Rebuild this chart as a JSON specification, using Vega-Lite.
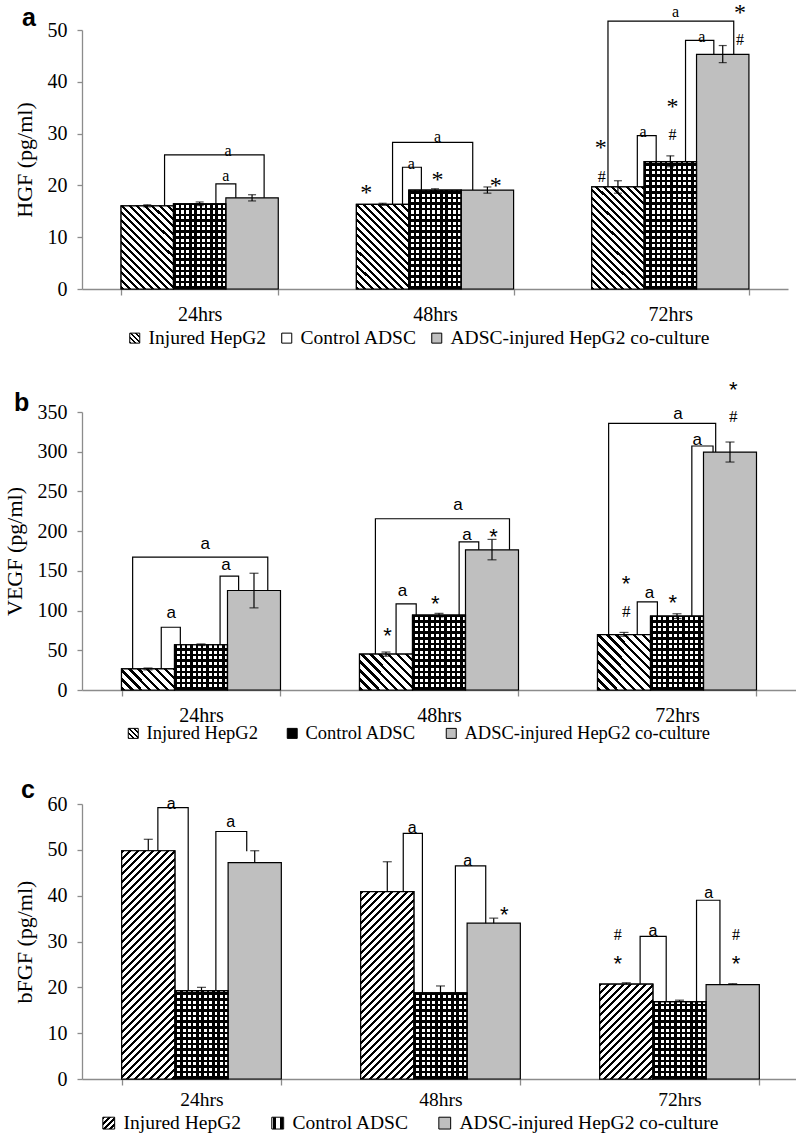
{
"$schema":"https://vega.github.io/schema/vega-lite/v6.json",
"background":"white",
"padding":{"left":3,"top":1,"right":0,"bottom":0},
"params":[
{"name":"hatchStops","value":[{"offset":0,"color":"#000"},{"offset":0.01,"color":"#000"},{"offset":0.01,"color":"#fff"},{"offset":0.025,"color":"#fff"},
{"offset":0.025,"color":"#000"},{"offset":0.035,"color":"#000"},{"offset":0.035,"color":"#fff"},{"offset":0.05,"color":"#fff"},
{"offset":0.05,"color":"#000"},{"offset":0.06,"color":"#000"},{"offset":0.06,"color":"#fff"},{"offset":0.075,"color":"#fff"},
{"offset":0.075,"color":"#000"},{"offset":0.085,"color":"#000"},{"offset":0.085,"color":"#fff"},{"offset":0.1,"color":"#fff"},
{"offset":0.1,"color":"#000"},{"offset":0.11,"color":"#000"},{"offset":0.11,"color":"#fff"},{"offset":0.125,"color":"#fff"},
{"offset":0.125,"color":"#000"},{"offset":0.135,"color":"#000"},{"offset":0.135,"color":"#fff"},{"offset":0.15,"color":"#fff"},
{"offset":0.15,"color":"#000"},{"offset":0.16,"color":"#000"},{"offset":0.16,"color":"#fff"},{"offset":0.175,"color":"#fff"},
{"offset":0.175,"color":"#000"},{"offset":0.185,"color":"#000"},{"offset":0.185,"color":"#fff"},{"offset":0.2,"color":"#fff"},
{"offset":0.2,"color":"#000"},{"offset":0.21,"color":"#000"},{"offset":0.21,"color":"#fff"},{"offset":0.225,"color":"#fff"},
{"offset":0.225,"color":"#000"},{"offset":0.235,"color":"#000"},{"offset":0.235,"color":"#fff"},{"offset":0.25,"color":"#fff"},
{"offset":0.25,"color":"#000"},{"offset":0.26,"color":"#000"},{"offset":0.26,"color":"#fff"},{"offset":0.275,"color":"#fff"},
{"offset":0.275,"color":"#000"},{"offset":0.285,"color":"#000"},{"offset":0.285,"color":"#fff"},{"offset":0.3,"color":"#fff"},
{"offset":0.3,"color":"#000"},{"offset":0.31,"color":"#000"},{"offset":0.31,"color":"#fff"},{"offset":0.325,"color":"#fff"},
{"offset":0.325,"color":"#000"},{"offset":0.335,"color":"#000"},{"offset":0.335,"color":"#fff"},{"offset":0.35,"color":"#fff"},
{"offset":0.35,"color":"#000"},{"offset":0.36,"color":"#000"},{"offset":0.36,"color":"#fff"},{"offset":0.375,"color":"#fff"},
{"offset":0.375,"color":"#000"},{"offset":0.385,"color":"#000"},{"offset":0.385,"color":"#fff"},{"offset":0.4,"color":"#fff"},
{"offset":0.4,"color":"#000"},{"offset":0.41,"color":"#000"},{"offset":0.41,"color":"#fff"},{"offset":0.425,"color":"#fff"},
{"offset":0.425,"color":"#000"},{"offset":0.435,"color":"#000"},{"offset":0.435,"color":"#fff"},{"offset":0.45,"color":"#fff"},
{"offset":0.45,"color":"#000"},{"offset":0.46,"color":"#000"},{"offset":0.46,"color":"#fff"},{"offset":0.475,"color":"#fff"},
{"offset":0.475,"color":"#000"},{"offset":0.485,"color":"#000"},{"offset":0.485,"color":"#fff"},{"offset":0.5,"color":"#fff"},
{"offset":0.5,"color":"#000"},{"offset":0.51,"color":"#000"},{"offset":0.51,"color":"#fff"},{"offset":0.525,"color":"#fff"},
{"offset":0.525,"color":"#000"},{"offset":0.535,"color":"#000"},{"offset":0.535,"color":"#fff"},{"offset":0.55,"color":"#fff"},
{"offset":0.55,"color":"#000"},{"offset":0.56,"color":"#000"},{"offset":0.56,"color":"#fff"},{"offset":0.575,"color":"#fff"},
{"offset":0.575,"color":"#000"},{"offset":0.585,"color":"#000"},{"offset":0.585,"color":"#fff"},{"offset":0.6,"color":"#fff"},
{"offset":0.6,"color":"#000"},{"offset":0.61,"color":"#000"},{"offset":0.61,"color":"#fff"},{"offset":0.625,"color":"#fff"},
{"offset":0.625,"color":"#000"},{"offset":0.635,"color":"#000"},{"offset":0.635,"color":"#fff"},{"offset":0.65,"color":"#fff"},
{"offset":0.65,"color":"#000"},{"offset":0.66,"color":"#000"},{"offset":0.66,"color":"#fff"},{"offset":0.675,"color":"#fff"},
{"offset":0.675,"color":"#000"},{"offset":0.685,"color":"#000"},{"offset":0.685,"color":"#fff"},{"offset":0.7,"color":"#fff"},
{"offset":0.7,"color":"#000"},{"offset":0.71,"color":"#000"},{"offset":0.71,"color":"#fff"},{"offset":0.725,"color":"#fff"},
{"offset":0.725,"color":"#000"},{"offset":0.735,"color":"#000"},{"offset":0.735,"color":"#fff"},{"offset":0.75,"color":"#fff"},
{"offset":0.75,"color":"#000"},{"offset":0.76,"color":"#000"},{"offset":0.76,"color":"#fff"},{"offset":0.775,"color":"#fff"},
{"offset":0.775,"color":"#000"},{"offset":0.785,"color":"#000"},{"offset":0.785,"color":"#fff"},{"offset":0.8,"color":"#fff"},
{"offset":0.8,"color":"#000"},{"offset":0.81,"color":"#000"},{"offset":0.81,"color":"#fff"},{"offset":0.825,"color":"#fff"},
{"offset":0.825,"color":"#000"},{"offset":0.835,"color":"#000"},{"offset":0.835,"color":"#fff"},{"offset":0.85,"color":"#fff"},
{"offset":0.85,"color":"#000"},{"offset":0.86,"color":"#000"},{"offset":0.86,"color":"#fff"},{"offset":0.875,"color":"#fff"},
{"offset":0.875,"color":"#000"},{"offset":0.885,"color":"#000"},{"offset":0.885,"color":"#fff"},{"offset":0.9,"color":"#fff"},
{"offset":0.9,"color":"#000"},{"offset":0.91,"color":"#000"},{"offset":0.91,"color":"#fff"},{"offset":0.925,"color":"#fff"},
{"offset":0.925,"color":"#000"},{"offset":0.935,"color":"#000"},{"offset":0.935,"color":"#fff"},{"offset":0.95,"color":"#fff"},
{"offset":0.95,"color":"#000"},{"offset":0.96,"color":"#000"},{"offset":0.96,"color":"#fff"},{"offset":0.975,"color":"#fff"},
{"offset":0.975,"color":"#000"},{"offset":0.985,"color":"#000"},{"offset":0.985,"color":"#fff"},{"offset":1,"color":"#fff"}]},
{"name":"rowStops","value":[{"offset":0,"color":"#000"},{"offset":0.018,"color":"#000"},{"offset":0.018,"color":"rgba(0,0,0,0)"},{"offset":0.04,"color":"rgba(0,0,0,0)"},
{"offset":0.04,"color":"#000"},{"offset":0.058,"color":"#000"},{"offset":0.058,"color":"rgba(0,0,0,0)"},{"offset":0.08,"color":"rgba(0,0,0,0)"},
{"offset":0.08,"color":"#000"},{"offset":0.098,"color":"#000"},{"offset":0.098,"color":"rgba(0,0,0,0)"},{"offset":0.12,"color":"rgba(0,0,0,0)"},
{"offset":0.12,"color":"#000"},{"offset":0.138,"color":"#000"},{"offset":0.138,"color":"rgba(0,0,0,0)"},{"offset":0.16,"color":"rgba(0,0,0,0)"},
{"offset":0.16,"color":"#000"},{"offset":0.178,"color":"#000"},{"offset":0.178,"color":"rgba(0,0,0,0)"},{"offset":0.2,"color":"rgba(0,0,0,0)"},
{"offset":0.2,"color":"#000"},{"offset":0.218,"color":"#000"},{"offset":0.218,"color":"rgba(0,0,0,0)"},{"offset":0.24,"color":"rgba(0,0,0,0)"},
{"offset":0.24,"color":"#000"},{"offset":0.258,"color":"#000"},{"offset":0.258,"color":"rgba(0,0,0,0)"},{"offset":0.28,"color":"rgba(0,0,0,0)"},
{"offset":0.28,"color":"#000"},{"offset":0.298,"color":"#000"},{"offset":0.298,"color":"rgba(0,0,0,0)"},{"offset":0.32,"color":"rgba(0,0,0,0)"},
{"offset":0.32,"color":"#000"},{"offset":0.338,"color":"#000"},{"offset":0.338,"color":"rgba(0,0,0,0)"},{"offset":0.36,"color":"rgba(0,0,0,0)"},
{"offset":0.36,"color":"#000"},{"offset":0.378,"color":"#000"},{"offset":0.378,"color":"rgba(0,0,0,0)"},{"offset":0.4,"color":"rgba(0,0,0,0)"},
{"offset":0.4,"color":"#000"},{"offset":0.418,"color":"#000"},{"offset":0.418,"color":"rgba(0,0,0,0)"},{"offset":0.44,"color":"rgba(0,0,0,0)"},
{"offset":0.44,"color":"#000"},{"offset":0.458,"color":"#000"},{"offset":0.458,"color":"rgba(0,0,0,0)"},{"offset":0.48,"color":"rgba(0,0,0,0)"},
{"offset":0.48,"color":"#000"},{"offset":0.498,"color":"#000"},{"offset":0.498,"color":"rgba(0,0,0,0)"},{"offset":0.52,"color":"rgba(0,0,0,0)"},
{"offset":0.52,"color":"#000"},{"offset":0.538,"color":"#000"},{"offset":0.538,"color":"rgba(0,0,0,0)"},{"offset":0.56,"color":"rgba(0,0,0,0)"},
{"offset":0.56,"color":"#000"},{"offset":0.578,"color":"#000"},{"offset":0.578,"color":"rgba(0,0,0,0)"},{"offset":0.6,"color":"rgba(0,0,0,0)"},
{"offset":0.6,"color":"#000"},{"offset":0.618,"color":"#000"},{"offset":0.618,"color":"rgba(0,0,0,0)"},{"offset":0.64,"color":"rgba(0,0,0,0)"},
{"offset":0.64,"color":"#000"},{"offset":0.658,"color":"#000"},{"offset":0.658,"color":"rgba(0,0,0,0)"},{"offset":0.68,"color":"rgba(0,0,0,0)"},
{"offset":0.68,"color":"#000"},{"offset":0.698,"color":"#000"},{"offset":0.698,"color":"rgba(0,0,0,0)"},{"offset":0.72,"color":"rgba(0,0,0,0)"},
{"offset":0.72,"color":"#000"},{"offset":0.738,"color":"#000"},{"offset":0.738,"color":"rgba(0,0,0,0)"},{"offset":0.76,"color":"rgba(0,0,0,0)"},
{"offset":0.76,"color":"#000"},{"offset":0.778,"color":"#000"},{"offset":0.778,"color":"rgba(0,0,0,0)"},{"offset":0.8,"color":"rgba(0,0,0,0)"},
{"offset":0.8,"color":"#000"},{"offset":0.818,"color":"#000"},{"offset":0.818,"color":"rgba(0,0,0,0)"},{"offset":0.84,"color":"rgba(0,0,0,0)"},
{"offset":0.84,"color":"#000"},{"offset":0.858,"color":"#000"},{"offset":0.858,"color":"rgba(0,0,0,0)"},{"offset":0.88,"color":"rgba(0,0,0,0)"},
{"offset":0.88,"color":"#000"},{"offset":0.898,"color":"#000"},{"offset":0.898,"color":"rgba(0,0,0,0)"},{"offset":0.92,"color":"rgba(0,0,0,0)"},
{"offset":0.92,"color":"#000"},{"offset":0.938,"color":"#000"},{"offset":0.938,"color":"rgba(0,0,0,0)"},{"offset":0.96,"color":"rgba(0,0,0,0)"},
{"offset":0.96,"color":"#000"},{"offset":0.978,"color":"#000"},{"offset":0.978,"color":"rgba(0,0,0,0)"},{"offset":1,"color":"rgba(0,0,0,0)"}]},
{"name":"ctlGrad","value":{"gradient":"linear","x1":0,"y1":0,"x2":1,"y2":0,"stops":[
{"offset":0,"color":"#000"},{"offset":0.045,"color":"#000"},{"offset":0.045,"color":"#fff"},{"offset":0.1,"color":"#fff"},
{"offset":0.1,"color":"#000"},{"offset":0.145,"color":"#000"},{"offset":0.145,"color":"#fff"},{"offset":0.2,"color":"#fff"},
{"offset":0.2,"color":"#000"},{"offset":0.245,"color":"#000"},{"offset":0.245,"color":"#fff"},{"offset":0.3,"color":"#fff"},
{"offset":0.3,"color":"#000"},{"offset":0.345,"color":"#000"},{"offset":0.345,"color":"#fff"},{"offset":0.4,"color":"#fff"},
{"offset":0.4,"color":"#000"},{"offset":0.445,"color":"#000"},{"offset":0.445,"color":"#fff"},{"offset":0.5,"color":"#fff"},
{"offset":0.5,"color":"#000"},{"offset":0.545,"color":"#000"},{"offset":0.545,"color":"#fff"},{"offset":0.6,"color":"#fff"},
{"offset":0.6,"color":"#000"},{"offset":0.645,"color":"#000"},{"offset":0.645,"color":"#fff"},{"offset":0.7,"color":"#fff"},
{"offset":0.7,"color":"#000"},{"offset":0.745,"color":"#000"},{"offset":0.745,"color":"#fff"},{"offset":0.8,"color":"#fff"},
{"offset":0.8,"color":"#000"},{"offset":0.845,"color":"#000"},{"offset":0.845,"color":"#fff"},{"offset":0.9,"color":"#fff"},
{"offset":0.9,"color":"#000"},{"offset":0.945,"color":"#000"},{"offset":0.945,"color":"#fff"},{"offset":1,"color":"#fff"}]}},
{"name":"legInjA","value":{"gradient":"linear","x1":0,"y1":1,"x2":1,"y2":0,"stops":[
{"offset":0,"color":"#000"},{"offset":0.1,"color":"#000"},{"offset":0.1,"color":"#fff"},{"offset":0.25,"color":"#fff"},
{"offset":0.25,"color":"#000"},{"offset":0.35,"color":"#000"},{"offset":0.35,"color":"#fff"},{"offset":0.5,"color":"#fff"},
{"offset":0.5,"color":"#000"},{"offset":0.6,"color":"#000"},{"offset":0.6,"color":"#fff"},{"offset":0.75,"color":"#fff"},
{"offset":0.75,"color":"#000"},{"offset":0.85,"color":"#000"},{"offset":0.85,"color":"#fff"},{"offset":1,"color":"#fff"}]}},
{"name":"legInjC","value":{"gradient":"linear","x1":0,"y1":0,"x2":1,"y2":1,"stops":[
{"offset":0,"color":"#000"},{"offset":0.1,"color":"#000"},{"offset":0.1,"color":"#fff"},{"offset":0.25,"color":"#fff"},
{"offset":0.25,"color":"#000"},{"offset":0.35,"color":"#000"},{"offset":0.35,"color":"#fff"},{"offset":0.5,"color":"#fff"},
{"offset":0.5,"color":"#000"},{"offset":0.6,"color":"#000"},{"offset":0.6,"color":"#fff"},{"offset":0.75,"color":"#fff"},
{"offset":0.75,"color":"#000"},{"offset":0.85,"color":"#000"},{"offset":0.85,"color":"#fff"},{"offset":1,"color":"#fff"}]}}
],
"config":{
"view":{"stroke":null},
"font":"Liberation Serif",
"axis":{"domainColor":"#8c8c8c","tickColor":"#8c8c8c","domainWidth":1.3,"tickWidth":1.3,"labelColor":"#000","titleColor":"#000","labelFont":"Liberation Serif","titleFont":"Liberation Serif","titleFontWeight":"normal","grid":false},
"axisX":{"labelFontSize":20,"tickSize":6,"labelPadding":9,"labelAngle":0},
"axisY":{"labelFontSize":20,"tickSize":5,"labelPadding":10,"titleFontSize":22,"titlePadding":11,"labelOverlap":false},
"title":{"font":"Liberation Sans","fontWeight":"bold","fontSize":25,"anchor":"start","frame":"bounds","color":"#000","baseline":"alphabetic","offset":0}
},
"bounds":"flush",
"spacing":123,
"resolve":{"scale":{"fill":"independent","x":"independent","y":"independent"},"legend":{"fill":"independent"}},
"vconcat":[
{
"width":706,"height":259,
"title":{"text":"a","dx":9,"dy":34},
"data":{"values":[
{"time":"24hrs","series":"Injured HepG2","value":16.05,"lo":15.85,"hi":16.25},
{"time":"24hrs","series":"Control ADSC","value":16.45,"lo":16.1,"hi":16.8},
{"time":"24hrs","series":"ADSC-injured HepG2 co-culture","value":17.6,"lo":17.0,"hi":18.2},
{"time":"48hrs","series":"Injured HepG2","value":16.35,"lo":16.15,"hi":16.55},
{"time":"48hrs","series":"Control ADSC","value":19.1,"lo":18.85,"hi":19.35},
{"time":"48hrs","series":"ADSC-injured HepG2 co-culture","value":19.1,"lo":18.5,"hi":19.7},
{"time":"72hrs","series":"Injured HepG2","value":19.7,"lo":18.5,"hi":20.9},
{"time":"72hrs","series":"Control ADSC","value":24.6,"lo":23.6,"hi":25.7},
{"time":"72hrs","series":"ADSC-injured HepG2 co-culture","value":45.3,"lo":43.7,"hi":47.0}
]},
"resolve":{"scale":{"xOffset":"independent"}},
"layer":[
{"mark":{"type":"bar","stroke":"#000","strokeWidth":1.2},
"encoding":{
"x":{"field":"time","type":"nominal","title":null,"scale":{"paddingInner":0.332,"paddingOuter":0.166},"axis":{"labelAngle":0,"tickBand":"extent"}},
"xOffset":{"field":"series","type":"nominal","scale":{"domain":["Injured HepG2","Control ADSC","ADSC-injured HepG2 co-culture"],"paddingInner":0,"paddingOuter":0}},
"y":{"field":"value","type":"quantitative","title":"HGF (pg/ml)","scale":{"domain":[0,50],"nice":false},"axis":{"values":[0,10,20,30,40,50],"labelOverlap":false}},
"fill":{"field":"series","type":"nominal","scale":{"domain":["Injured HepG2","Control ADSC","ADSC-injured HepG2 co-culture"],"range":[{"expr":"legInjA"},{"expr":"ctlGrad"},"#bfbfbf"]},
"legend":{"title":null,"orient":"none","legendX":43,"legendY":298,"direction":"horizontal","symbolType":"square","symbolSize":100,"symbolStrokeColor":"#000","symbolStrokeWidth":1,"labelFont":"Liberation Serif","labelFontSize":19.5,"labelColor":"#000","columnPadding":10,"labelOffset":4,"labelLimit":500,"padding":0,
"encode":{"symbols":{"update":{"fill":{"signal":"datum.value === 'Injured HepG2' ? legInjA : datum.value === 'Control ADSC' ? '#333333' : '#bfbfbf'"},"stroke":{"value":"#000"}}}}}}
}},
{"transform":[{"filter":"datum.series === 'Injured HepG2'"}],
"mark":{"type":"bar","stroke":"#000","strokeWidth":1.2,"fill":{"expr":"{gradient:'linear',x1:0,y1:1,x2:300*52/(2704+pow(datum.value*5.17,2)),y2:1-300*datum.value*5.17/(2704+pow(datum.value*5.17,2)),stops:hatchStops}"}},
"encoding":{
"x":{"field":"time","type":"nominal","title":null},
"xOffset":{"field":"series","type":"nominal","scale":{"domain":["Injured HepG2","Control ADSC","ADSC-injured HepG2 co-culture"],"paddingInner":0,"paddingOuter":0}},
"y":{"field":"value","type":"quantitative","title":"HGF (pg/ml)","scale":{"domain":[0,50],"nice":false}}}},
{"transform":[{"filter":"datum.series === 'Control ADSC'"}],
"mark":{"type":"bar","stroke":"#000","strokeWidth":1.2,"fill":{"expr":"{gradient:'linear',x1:0.5,y1:1,x2:0.5,y2:1-140/(datum.value*5.17),stops:rowStops}"}},
"encoding":{
"x":{"field":"time","type":"nominal","title":null},
"xOffset":{"field":"series","type":"nominal","scale":{"domain":["Injured HepG2","Control ADSC","ADSC-injured HepG2 co-culture"],"paddingInner":0,"paddingOuter":0}},
"y":{"field":"value","type":"quantitative","title":"HGF (pg/ml)","scale":{"domain":[0,50],"nice":false}}}},
{"mark":{"type":"rule","stroke":"#000","strokeWidth":1.2},
"encoding":{
"x":{"field":"time","type":"nominal","title":null},
"xOffset":{"field":"series","type":"nominal","scale":{"domain":["Injured HepG2","Control ADSC","ADSC-injured HepG2 co-culture"],"paddingInner":0,"paddingOuter":0}},
"y":{"field":"lo","type":"quantitative","title":"HGF (pg/ml)","scale":{"domain":[0,50],"nice":false}},
"y2":{"field":"hi"}}},
{"mark":{"type":"tick","orient":"horizontal","size":8,"thickness":1.2,"color":"#000"},
"encoding":{
"x":{"field":"time","type":"nominal","title":null},
"xOffset":{"field":"series","type":"nominal","scale":{"domain":["Injured HepG2","Control ADSC","ADSC-injured HepG2 co-culture"],"paddingInner":0,"paddingOuter":0}},
"y":{"field":"hi","type":"quantitative","title":"HGF (pg/ml)","scale":{"domain":[0,50],"nice":false}}}},
{"mark":{"type":"tick","orient":"horizontal","size":8,"thickness":1.2,"color":"#000"},
"encoding":{
"x":{"field":"time","type":"nominal","title":null},
"xOffset":{"field":"series","type":"nominal","scale":{"domain":["Injured HepG2","Control ADSC","ADSC-injured HepG2 co-culture"],"paddingInner":0,"paddingOuter":0}},
"y":{"field":"lo","type":"quantitative","title":"HGF (pg/ml)","scale":{"domain":[0,50],"nice":false}}}},
{"data":{"values":[
{"time":"24hrs","id":"L","k":1,"pos":0.83,"y":16.05},{"time":"24hrs","id":"L","k":2,"pos":0.83,"y":25.9},{"time":"24hrs","id":"L","k":3,"pos":2.73,"y":25.9},{"time":"24hrs","id":"L","k":4,"pos":2.73,"y":17.6},
{"time":"24hrs","id":"S","k":1,"pos":1.81,"y":16.45},{"time":"24hrs","id":"S","k":2,"pos":1.81,"y":20.3},{"time":"24hrs","id":"S","k":3,"pos":2.19,"y":20.3},{"time":"24hrs","id":"S","k":4,"pos":2.19,"y":17.6},
{"time":"48hrs","id":"L","k":1,"pos":0.69,"y":16.35},{"time":"48hrs","id":"L","k":2,"pos":0.69,"y":28.3},{"time":"48hrs","id":"L","k":3,"pos":2.22,"y":28.3},{"time":"48hrs","id":"L","k":4,"pos":2.22,"y":19.1},
{"time":"48hrs","id":"S","k":1,"pos":0.88,"y":16.35},{"time":"48hrs","id":"S","k":2,"pos":0.88,"y":23.5},{"time":"48hrs","id":"S","k":3,"pos":1.24,"y":23.5},{"time":"48hrs","id":"S","k":4,"pos":1.24,"y":19.1},
{"time":"72hrs","id":"L","k":1,"pos":0.31,"y":19.7},{"time":"72hrs","id":"L","k":2,"pos":0.31,"y":51.7},{"time":"72hrs","id":"L","k":3,"pos":2.71,"y":51.7},{"time":"72hrs","id":"L","k":4,"pos":2.71,"y":45.3},
{"time":"72hrs","id":"S1","k":1,"pos":0.87,"y":19.7},{"time":"72hrs","id":"S1","k":2,"pos":0.87,"y":29.6},{"time":"72hrs","id":"S1","k":3,"pos":1.23,"y":29.6},{"time":"72hrs","id":"S1","k":4,"pos":1.23,"y":24.6},
{"time":"72hrs","id":"S2","k":1,"pos":1.79,"y":24.6},{"time":"72hrs","id":"S2","k":2,"pos":1.79,"y":48.0},{"time":"72hrs","id":"S2","k":3,"pos":2.33,"y":48.0},{"time":"72hrs","id":"S2","k":4,"pos":2.33,"y":45.3}
]},
"mark":{"type":"line","stroke":"#000","strokeWidth":1.2},
"encoding":{
"x":{"field":"time","type":"nominal","title":null},
"xOffset":{"field":"pos","type":"quantitative","scale":{"domain":[0,3],"nice":false,"zero":false}},
"y":{"field":"y","type":"quantitative","title":"HGF (pg/ml)","scale":{"domain":[0,50],"nice":false}},
"detail":[{"field":"time"},{"field":"id"}],
"order":{"field":"k"}}},
{"data":{"values":[
{"time":"24hrs","pos":2.04,"y":26.7,"label":"a"},{"time":"24hrs","pos":2.0,"y":21.9,"label":"a"},
{"time":"48hrs","pos":1.55,"y":29.3,"label":"a"},{"time":"48hrs","pos":1.05,"y":24.2,"label":"a"},
{"time":"72hrs","pos":1.6,"y":53.4,"label":"a"},{"time":"72hrs","pos":0.98,"y":30.4,"label":"a"},{"time":"72hrs","pos":2.1,"y":48.7,"label":"a"},
{"time":"48hrs","pos":0.19,"y":19.3,"label":"*"},{"time":"48hrs","pos":1.55,"y":21.8,"label":"*"},{"time":"48hrs","pos":2.66,"y":20.6,"label":"*"},
{"time":"72hrs","pos":0.17,"y":27.9,"label":"*"},{"time":"72hrs","pos":1.54,"y":36.0,"label":"*"},{"time":"72hrs","pos":2.83,"y":54.0,"label":"*"},
{"time":"72hrs","pos":0.19,"y":21.7,"label":"#"},{"time":"72hrs","pos":1.54,"y":29.8,"label":"#"},{"time":"72hrs","pos":2.83,"y":48.1,"label":"#"}
]},
"mark":{"type":"text","font":"Liberation Serif","baseline":"middle","align":"center","color":"#000","dy":{"expr":"datum.label === '*' ? 4 : 0"}},
"encoding":{
"x":{"field":"time","type":"nominal","title":null},
"xOffset":{"field":"pos","type":"quantitative","scale":{"domain":[0,3],"nice":false,"zero":false}},
"y":{"field":"y","type":"quantitative","title":"HGF (pg/ml)","scale":{"domain":[0,50],"nice":false}},
"text":{"field":"label"},
"size":{"condition":{"test":"datum.label === '*'","value":24},"value":16}}}
]
},
{
"bounds":"flush",
"spacing":114,
"resolve":{"scale":{"fill":"independent","x":"independent","y":"independent"},"legend":{"fill":"independent"}},
"vconcat":[
{
"width":714,"height":278,
"title":{"text":"b","dx":11,"dy":41},
"data":{"values":[
{"time":"24hrs","series":"Injured HepG2","value":26.5,"lo":25.3,"hi":27.7},
{"time":"24hrs","series":"Control ADSC","value":57.0,"lo":56.0,"hi":58.0},
{"time":"24hrs","series":"ADSC-injured HepG2 co-culture","value":125.3,"lo":103.4,"hi":147.0},
{"time":"48hrs","series":"Injured HepG2","value":45.2,"lo":42.6,"hi":47.8},
{"time":"48hrs","series":"Control ADSC","value":94.2,"lo":92.0,"hi":96.5},
{"time":"48hrs","series":"ADSC-injured HepG2 co-culture","value":176.5,"lo":163.9,"hi":189.6},
{"time":"72hrs","series":"Injured HepG2","value":69.8,"lo":67.7,"hi":72.5},
{"time":"72hrs","series":"Control ADSC","value":92.9,"lo":90.0,"hi":96.0},
{"time":"72hrs","series":"ADSC-injured HepG2 co-culture","value":299.6,"lo":287.0,"hi":312.2}
]},
"resolve":{"scale":{"xOffset":"independent"}},
"layer":[
{"mark":{"type":"bar","stroke":"#000","strokeWidth":1.2},
"encoding":{
"x":{"field":"time","type":"nominal","title":null,"scale":{"paddingInner":0.332,"paddingOuter":0.166},"axis":{"labelAngle":0,"tickBand":"extent"}},
"xOffset":{"field":"series","type":"nominal","scale":{"domain":["Injured HepG2","Control ADSC","ADSC-injured HepG2 co-culture"],"paddingInner":0,"paddingOuter":0}},
"y":{"field":"value","type":"quantitative","title":"VEGF (pg/ml)","scale":{"domain":[0,350],"nice":false},"axis":{"values":[0,50,100,150,200,250,300,350],"labelOverlap":false,"tickCount":8}},
"fill":{"field":"series","type":"nominal","scale":{"domain":["Injured HepG2","Control ADSC","ADSC-injured HepG2 co-culture"],"range":[{"expr":"legInjA"},{"expr":"ctlGrad"},"#bfbfbf"]},
"legend":{"title":null,"orient":"none","legendX":42,"legendY":312,"direction":"horizontal","symbolType":"square","symbolSize":100,"symbolStrokeColor":"#000","symbolStrokeWidth":1,"labelFont":"Liberation Serif","labelFontSize":18.5,"labelColor":"#000","columnPadding":25,"labelOffset":4,"labelLimit":500,"padding":0,
"encode":{"symbols":{"update":{"fill":{"signal":"datum.value === 'Injured HepG2' ? legInjA : datum.value === 'Control ADSC' ? '#333333' : '#bfbfbf'"},"stroke":{"value":"#000"}}}}}}
}},
{"transform":[{"filter":"datum.series === 'Injured HepG2'"}],
"mark":{"type":"bar","stroke":"#000","strokeWidth":1.2,"fill":{"expr":"{gradient:'linear',x1:0,y1:1,x2:360*53.3/(2841+pow(datum.value*0.7934,2)),y2:1-360*datum.value*0.7934/(2841+pow(datum.value*0.7934,2)),stops:hatchStops}"}},
"encoding":{
"x":{"field":"time","type":"nominal","title":null},
"xOffset":{"field":"series","type":"nominal","scale":{"domain":["Injured HepG2","Control ADSC","ADSC-injured HepG2 co-culture"],"paddingInner":0,"paddingOuter":0}},
"y":{"field":"value","type":"quantitative","title":"VEGF (pg/ml)","scale":{"domain":[0,350],"nice":false}}}},
{"transform":[{"filter":"datum.series === 'Control ADSC'"}],
"mark":{"type":"bar","stroke":"#000","strokeWidth":1.2,"fill":{"expr":"{gradient:'linear',x1:0.5,y1:1,x2:0.5,y2:1-140/(datum.value*0.7934),stops:rowStops}"}},
"encoding":{
"x":{"field":"time","type":"nominal","title":null},
"xOffset":{"field":"series","type":"nominal","scale":{"domain":["Injured HepG2","Control ADSC","ADSC-injured HepG2 co-culture"],"paddingInner":0,"paddingOuter":0}},
"y":{"field":"value","type":"quantitative","title":"VEGF (pg/ml)","scale":{"domain":[0,350],"nice":false}}}},
{"mark":{"type":"rule","stroke":"#000","strokeWidth":1.2},
"encoding":{
"x":{"field":"time","type":"nominal","title":null},
"xOffset":{"field":"series","type":"nominal","scale":{"domain":["Injured HepG2","Control ADSC","ADSC-injured HepG2 co-culture"],"paddingInner":0,"paddingOuter":0}},
"y":{"field":"lo","type":"quantitative","title":"VEGF (pg/ml)","scale":{"domain":[0,350],"nice":false}},
"y2":{"field":"hi"}}},
{"mark":{"type":"tick","orient":"horizontal","size":9,"thickness":1.2,"color":"#000"},
"encoding":{
"x":{"field":"time","type":"nominal","title":null},
"xOffset":{"field":"series","type":"nominal","scale":{"domain":["Injured HepG2","Control ADSC","ADSC-injured HepG2 co-culture"],"paddingInner":0,"paddingOuter":0}},
"y":{"field":"hi","type":"quantitative","title":"VEGF (pg/ml)","scale":{"domain":[0,350],"nice":false}}}},
{"mark":{"type":"tick","orient":"horizontal","size":9,"thickness":1.2,"color":"#000"},
"encoding":{
"x":{"field":"time","type":"nominal","title":null},
"xOffset":{"field":"series","type":"nominal","scale":{"domain":["Injured HepG2","Control ADSC","ADSC-injured HepG2 co-culture"],"paddingInner":0,"paddingOuter":0}},
"y":{"field":"lo","type":"quantitative","title":"VEGF (pg/ml)","scale":{"domain":[0,350],"nice":false}}}},
{"data":{"values":[
{"time":"24hrs","id":"L","k":1,"pos":0.21,"y":26.5},{"time":"24hrs","id":"L","k":2,"pos":0.21,"y":167.3},{"time":"24hrs","id":"L","k":3,"pos":2.76,"y":167.3},{"time":"24hrs","id":"L","k":4,"pos":2.76,"y":125.3},
{"time":"24hrs","id":"S1","k":1,"pos":0.75,"y":26.5},{"time":"24hrs","id":"S1","k":2,"pos":0.75,"y":79},{"time":"24hrs","id":"S1","k":3,"pos":1.11,"y":79},{"time":"24hrs","id":"S1","k":4,"pos":1.11,"y":57},
{"time":"24hrs","id":"S2","k":1,"pos":1.86,"y":57},{"time":"24hrs","id":"S2","k":2,"pos":1.86,"y":143.3},{"time":"24hrs","id":"S2","k":3,"pos":2.21,"y":143.3},{"time":"24hrs","id":"S2","k":4,"pos":2.21,"y":125.3},
{"time":"48hrs","id":"L","k":1,"pos":0.3,"y":45.2},{"time":"48hrs","id":"L","k":2,"pos":0.3,"y":215.6},{"time":"48hrs","id":"L","k":3,"pos":2.83,"y":215.6},{"time":"48hrs","id":"L","k":4,"pos":2.83,"y":176.5},
{"time":"48hrs","id":"S1","k":1,"pos":0.69,"y":45.2},{"time":"48hrs","id":"S1","k":2,"pos":0.69,"y":108.4},{"time":"48hrs","id":"S1","k":3,"pos":1.07,"y":108.4},{"time":"48hrs","id":"S1","k":4,"pos":1.07,"y":94.2},
{"time":"48hrs","id":"S2","k":1,"pos":1.88,"y":94.2},{"time":"48hrs","id":"S2","k":2,"pos":1.88,"y":186.6},{"time":"48hrs","id":"S2","k":3,"pos":2.25,"y":186.6},{"time":"48hrs","id":"S2","k":4,"pos":2.25,"y":176.5},
{"time":"72hrs","id":"L","k":1,"pos":0.21,"y":69.8},{"time":"72hrs","id":"L","k":2,"pos":0.21,"y":335.8},{"time":"72hrs","id":"L","k":3,"pos":2.23,"y":335.8},{"time":"72hrs","id":"L","k":4,"pos":2.23,"y":299.6},
{"time":"72hrs","id":"S1","k":1,"pos":0.75,"y":69.8},{"time":"72hrs","id":"S1","k":2,"pos":0.75,"y":110.9},{"time":"72hrs","id":"S1","k":3,"pos":1.13,"y":110.9},{"time":"72hrs","id":"S1","k":4,"pos":1.13,"y":92.9},
{"time":"72hrs","id":"S2","k":1,"pos":1.78,"y":92.9},{"time":"72hrs","id":"S2","k":2,"pos":1.78,"y":307.2},{"time":"72hrs","id":"S2","k":3,"pos":2.18,"y":307.2},{"time":"72hrs","id":"S2","k":4,"pos":2.18,"y":299.6}
]},
"mark":{"type":"line","stroke":"#000","strokeWidth":1.2},
"encoding":{
"x":{"field":"time","type":"nominal","title":null},
"xOffset":{"field":"pos","type":"quantitative","scale":{"domain":[0,3],"nice":false,"zero":false}},
"y":{"field":"y","type":"quantitative","title":"VEGF (pg/ml)","scale":{"domain":[0,350],"nice":false}},
"detail":[{"field":"time"},{"field":"id"}],
"order":{"field":"k"}}},
{"data":{"values":[
{"time":"24hrs","pos":1.58,"y":183.3,"label":"a"},{"time":"24hrs","pos":0.94,"y":97.1,"label":"a"},{"time":"24hrs","pos":1.97,"y":158,"label":"a"},
{"time":"48hrs","pos":1.86,"y":232.4,"label":"a"},{"time":"48hrs","pos":0.81,"y":124.4,"label":"a"},{"time":"48hrs","pos":2.03,"y":195,"label":"a"},
{"time":"72hrs","pos":1.52,"y":347.9,"label":"a"},{"time":"72hrs","pos":0.98,"y":122.3,"label":"a"},{"time":"72hrs","pos":1.88,"y":314.7,"label":"a"},
{"time":"48hrs","pos":0.53,"y":76.1,"label":"*"},{"time":"48hrs","pos":1.43,"y":116,"label":"*"},{"time":"48hrs","pos":2.53,"y":200,"label":"*"},
{"time":"72hrs","pos":0.54,"y":140.4,"label":"*"},{"time":"72hrs","pos":1.42,"y":116.8,"label":"*"},{"time":"72hrs","pos":2.56,"y":385.7,"label":"*"},
{"time":"72hrs","pos":0.54,"y":98.3,"label":"#"},{"time":"72hrs","pos":2.56,"y":343.7,"label":"#"}
]},
"mark":{"type":"text","font":{"expr":"datum.label === '#' ? 'Liberation Serif' : 'Liberation Sans'"},"baseline":"middle","align":"center","color":"#000","dy":{"expr":"datum.label === '*' ? 6 : 0"}},
"encoding":{
"x":{"field":"time","type":"nominal","title":null},
"xOffset":{"field":"pos","type":"quantitative","scale":{"domain":[0,3],"nice":false,"zero":false}},
"y":{"field":"y","type":"quantitative","title":"VEGF (pg/ml)","scale":{"domain":[0,350],"nice":false}},
"text":{"field":"label"},
"size":{"condition":{"test":"datum.label === '*'","value":22},"value":17}}}
]
},
{
"width":717,"height":275,
"title":{"text":"c","dx":8,"dy":13},
"data":{"values":[
{"time":"24hrs","series":"Injured HepG2","value":49.8,"hi":52.3},
{"time":"24hrs","series":"Control ADSC","value":19.3,"hi":20.0},
{"time":"24hrs","series":"ADSC-injured HepG2 co-culture","value":47.2,"hi":49.8},
{"time":"48hrs","series":"Injured HepG2","value":40.9,"hi":47.4},
{"time":"48hrs","series":"Control ADSC","value":18.8,"hi":20.3},
{"time":"48hrs","series":"ADSC-injured HepG2 co-culture","value":34.0,"hi":35.1},
{"time":"72hrs","series":"Injured HepG2","value":20.7,"hi":21.0},
{"time":"72hrs","series":"Control ADSC","value":16.9,"hi":17.2},
{"time":"72hrs","series":"ADSC-injured HepG2 co-culture","value":20.6,"hi":20.8}
]},
"resolve":{"scale":{"xOffset":"independent"}},
"layer":[
{"mark":{"type":"bar","stroke":"#000","strokeWidth":1.2},
"encoding":{
"x":{"field":"time","type":"nominal","title":null,"scale":{"paddingInner":0.332,"paddingOuter":0.166},"axis":{"labelAngle":0,"tickBand":"extent","labelPadding":5,"labelFontSize":19.5}},
"xOffset":{"field":"series","type":"nominal","scale":{"domain":["Injured HepG2","Control ADSC","ADSC-injured HepG2 co-culture"],"paddingInner":0,"paddingOuter":0}},
"y":{"field":"value","type":"quantitative","title":"bFGF (pg/ml)","scale":{"domain":[0,60],"nice":false},"axis":{"values":[0,10,20,30,40,50,60],"labelOverlap":false}},
"fill":{"field":"series","type":"nominal","scale":{"domain":["Injured HepG2","Control ADSC","ADSC-injured HepG2 co-culture"],"range":[{"expr":"legInjC"},{"expr":"ctlGrad"},"#bfbfbf"]},
"legend":{"title":null,"orient":"none","legendX":17,"legendY":309,"direction":"horizontal","symbolType":"square","symbolSize":140,"symbolStrokeColor":"#000","symbolStrokeWidth":1,"labelFont":"Liberation Serif","labelFontSize":19.5,"labelColor":"#000","columnPadding":26,"labelOffset":5,"labelLimit":500,"padding":0,
"encode":{"symbols":{"update":{"fill":{"signal":"datum.value === 'Injured HepG2' ? legInjC : datum.value === 'Control ADSC' ? '#333333' : '#bfbfbf'"},"stroke":{"value":"#000"}}}}}}
}},
{"transform":[{"filter":"datum.series === 'Injured HepG2'"}],
"mark":{"type":"bar","stroke":"#000","strokeWidth":1.2,"fill":{"expr":"{gradient:'linear',x1:0,y1:0,x2:300*53.2/(2830+pow(datum.value*4.583,2)),y2:300*datum.value*4.583/(2830+pow(datum.value*4.583,2)),stops:hatchStops}"}},
"encoding":{
"x":{"field":"time","type":"nominal","title":null},
"xOffset":{"field":"series","type":"nominal","scale":{"domain":["Injured HepG2","Control ADSC","ADSC-injured HepG2 co-culture"],"paddingInner":0,"paddingOuter":0}},
"y":{"field":"value","type":"quantitative","title":"bFGF (pg/ml)","scale":{"domain":[0,60],"nice":false}}}},
{"transform":[{"filter":"datum.series === 'Control ADSC'"}],
"mark":{"type":"bar","stroke":"#000","strokeWidth":1.2,"fill":{"expr":"{gradient:'linear',x1:0.5,y1:1,x2:0.5,y2:1-140/(datum.value*4.583),stops:rowStops}"}},
"encoding":{
"x":{"field":"time","type":"nominal","title":null},
"xOffset":{"field":"series","type":"nominal","scale":{"domain":["Injured HepG2","Control ADSC","ADSC-injured HepG2 co-culture"],"paddingInner":0,"paddingOuter":0}},
"y":{"field":"value","type":"quantitative","title":"bFGF (pg/ml)","scale":{"domain":[0,60],"nice":false}}}},
{"mark":{"type":"rule","stroke":"#000","strokeWidth":1.2},
"encoding":{
"x":{"field":"time","type":"nominal","title":null},
"xOffset":{"field":"series","type":"nominal","scale":{"domain":["Injured HepG2","Control ADSC","ADSC-injured HepG2 co-culture"],"paddingInner":0,"paddingOuter":0}},
"y":{"field":"value","type":"quantitative","title":"bFGF (pg/ml)","scale":{"domain":[0,60],"nice":false}},
"y2":{"field":"hi"}}},
{"mark":{"type":"tick","orient":"horizontal","size":9,"thickness":1.2,"color":"#000"},
"encoding":{
"x":{"field":"time","type":"nominal","title":null},
"xOffset":{"field":"series","type":"nominal","scale":{"domain":["Injured HepG2","Control ADSC","ADSC-injured HepG2 co-culture"],"paddingInner":0,"paddingOuter":0}},
"y":{"field":"hi","type":"quantitative","title":"bFGF (pg/ml)","scale":{"domain":[0,60],"nice":false}}}},
{"data":{"values":[
{"time":"24hrs","id":"B1","k":1,"pos":0.68,"y":49.8},{"time":"24hrs","id":"B1","k":2,"pos":0.68,"y":59.2},{"time":"24hrs","id":"B1","k":3,"pos":1.25,"y":59.2},{"time":"24hrs","id":"B1","k":4,"pos":1.25,"y":19.3},
{"time":"24hrs","id":"B2","k":1,"pos":1.77,"y":19.3},{"time":"24hrs","id":"B2","k":2,"pos":1.77,"y":54.0},{"time":"24hrs","id":"B2","k":3,"pos":2.35,"y":54.0},{"time":"24hrs","id":"B2","k":4,"pos":2.35,"y":49.7},
{"time":"48hrs","id":"B1","k":1,"pos":0.8,"y":40.9},{"time":"48hrs","id":"B1","k":2,"pos":0.8,"y":53.6},{"time":"48hrs","id":"B1","k":3,"pos":1.16,"y":53.6},{"time":"48hrs","id":"B1","k":4,"pos":1.16,"y":18.8},
{"time":"48hrs","id":"B2","k":1,"pos":1.78,"y":18.8},{"time":"48hrs","id":"B2","k":2,"pos":1.78,"y":46.5},{"time":"48hrs","id":"B2","k":3,"pos":2.35,"y":46.5},{"time":"48hrs","id":"B2","k":4,"pos":2.35,"y":34.0},
{"time":"72hrs","id":"B1","k":1,"pos":0.76,"y":20.7},{"time":"72hrs","id":"B1","k":2,"pos":0.76,"y":31.1},{"time":"72hrs","id":"B1","k":3,"pos":1.25,"y":31.1},{"time":"72hrs","id":"B1","k":4,"pos":1.25,"y":16.9},
{"time":"72hrs","id":"B2","k":1,"pos":1.82,"y":16.9},{"time":"72hrs","id":"B2","k":2,"pos":1.82,"y":39.0},{"time":"72hrs","id":"B2","k":3,"pos":2.26,"y":39.0},{"time":"72hrs","id":"B2","k":4,"pos":2.26,"y":20.6}
]},
"mark":{"type":"line","stroke":"#000","strokeWidth":1.2},
"encoding":{
"x":{"field":"time","type":"nominal","title":null},
"xOffset":{"field":"pos","type":"quantitative","scale":{"domain":[0,3],"nice":false,"zero":false}},
"y":{"field":"y","type":"quantitative","title":"bFGF (pg/ml)","scale":{"domain":[0,60],"nice":false}},
"detail":[{"field":"time"},{"field":"id"}],
"order":{"field":"k"}}},
{"data":{"values":[
{"time":"24hrs","pos":0.93,"y":60.1,"label":"a"},{"time":"24hrs","pos":2.05,"y":56.0,"label":"a"},
{"time":"48hrs","pos":0.97,"y":54.7,"label":"a"},{"time":"48hrs","pos":2.01,"y":47.6,"label":"a"},
{"time":"72hrs","pos":1.0,"y":32.2,"label":"a"},{"time":"72hrs","pos":2.05,"y":40.6,"label":"a"},
{"time":"48hrs","pos":2.7,"y":37.2,"label":"*"},{"time":"72hrs","pos":0.34,"y":26.5,"label":"*"},{"time":"72hrs","pos":2.56,"y":26.5,"label":"*"},
{"time":"72hrs","pos":0.34,"y":31.5,"label":"#"},{"time":"72hrs","pos":2.56,"y":31.5,"label":"#"}
]},
"mark":{"type":"text","font":{"expr":"datum.label === '#' ? 'Liberation Serif' : 'Liberation Sans'"},"baseline":"middle","align":"center","color":"#000","dy":{"expr":"datum.label === '*' ? 6 : 0"}},
"encoding":{
"x":{"field":"time","type":"nominal","title":null},
"xOffset":{"field":"pos","type":"quantitative","scale":{"domain":[0,3],"nice":false,"zero":false}},
"y":{"field":"y","type":"quantitative","title":"bFGF (pg/ml)","scale":{"domain":[0,60],"nice":false}},
"text":{"field":"label"},
"size":{"condition":{"test":"datum.label === '*'","value":22},"value":16}}}
]
}
]
}
]
}
